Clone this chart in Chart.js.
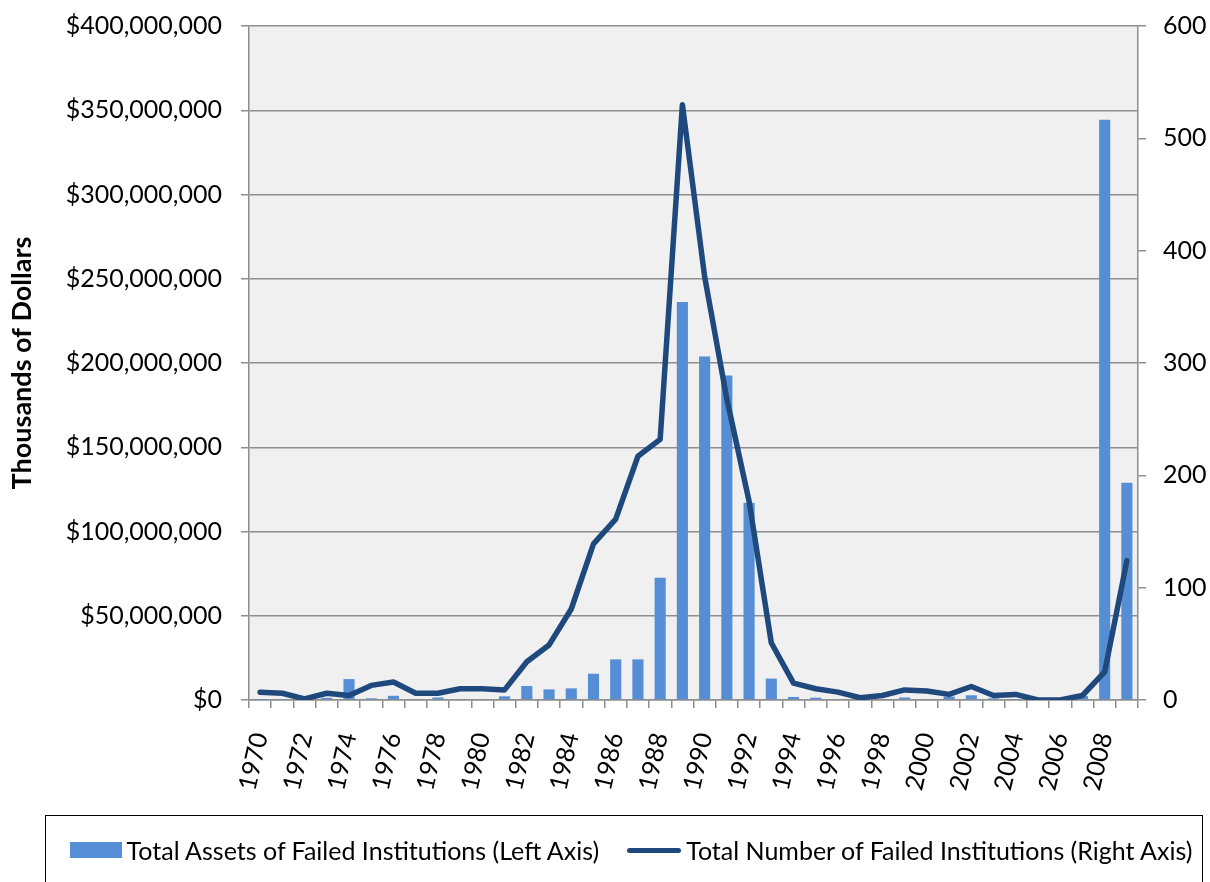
<!DOCTYPE html>
<html>
<head>
<meta charset="utf-8">
<script src="https://cdn.jsdelivr.net/npm/chart.js@4.4.1/dist/chart.umd.min.js"></script>
<style>
  html, body { margin: 0; padding: 0; background: #fff; overflow: hidden; }
  #wrap { position: relative; width: 1210px; height: 882px; overflow: hidden; }
  #chart { position: absolute; left: 0; top: -8px; }
  #legend {
    position: absolute; left: 45px; top: 815px; width: 1158px; height: 90px;
    box-sizing: border-box; border: 1px solid #000;
    display: flex; justify-content: center; align-items: flex-start;
    padding-top: 19px; padding-left: 14px;
    font-family: Lato, sans-serif; font-size: 25px; color: #000;
  }
  .item { display: flex; align-items: center; white-space: nowrap; }
  .item + .item { margin-left: 28px; }
  .swatch { margin-right: 5px; }
</style>
</head>
<body>
<div id="wrap">
  <canvas id="chart" width="1210" height="890"></canvas>
  <div id="legend"></div>
</div>
<script>
// Failed institutions per year.
const yearLabels = [
  '1970', '1971', '1972', '1973', '1974', '1975', '1976', '1977', '1978', '1979',
  '1980', '1981', '1982', '1983', '1984', '1985', '1986', '1987', '1988', '1989',
  '1990', '1991', '1992', '1993', '1994', '1995', '1996', '1997', '1998', '1999',
  '2000', '2001', '2002', '2003', '2004', '2005', '2006', '2007', '2008', '2009'
];

// thousands of dollars (left axis)
const totalAssets = [
  100000, 300000, 100000, 1300000, 12400000, 1000000, 2500000, 400000, 1500000, 300000,
  300000, 2200000, 8300000, 6300000, 6900000, 15600000, 24100000, 24100000, 72600000, 236200000,
  203900000, 192600000, 117000000, 12700000, 1800000, 1400000, 500000, 100000, 400000, 1500000,
  400000, 2000000, 2800000, 1000000, 200000, 0, 0, 2300000, 344300000, 129000000
];

// count (right axis)
const failedCount = [
  7, 6, 1, 6, 4, 13, 16, 6, 6, 10,
  10, 9, 34, 49, 81, 139, 161, 217, 232, 530,
  377, 268, 177, 51, 15, 10, 7, 2, 4, 9,
  8, 5, 12, 4, 5, 0, 0, 4, 25, 124
];

const assetsLabel = 'Total Assets of Failed Institutions (Left Axis)';
const countLabel = 'Total Number of Failed Institutions (Right Axis)';
const leftTitle = 'Thousands of Dollars';
const assetsMax = 400000000, assetsStep = 50000000;
const countMax = 600, countStep = 100;

const BAR_COLOR = '#558ed5';
const LINE_COLOR = '#1f497d';
const GRID = '#8e8e8e';
const FONT = 'Lato, sans-serif';

// grey plot background
const plotBg = {
  id: 'plotBg',
  beforeDraw(chart) {
    const { ctx, chartArea: a } = chart;
    ctx.save();
    ctx.fillStyle = '#f0f0f0';
    ctx.fillRect(a.left, a.top, a.right - a.left, a.bottom - a.top);
    ctx.restore();
  }
};

const tickFont = { family: FONT, size: 25 };

const chart = new Chart(document.getElementById('chart'), {
  data: {
    labels: yearLabels,
    datasets: [
      {
        type: 'line',
        label: countLabel,
        data: failedCount,
        yAxisID: 'yRight',
        borderColor: LINE_COLOR,
        backgroundColor: LINE_COLOR,
        borderWidth: 5.5,
        borderJoinStyle: 'round',
        borderCapStyle: 'round',
        pointRadius: 0,
        tension: 0,
        order: 0
      },
      {
        type: 'bar',
        label: assetsLabel,
        data: totalAssets,
        yAxisID: 'yLeft',
        backgroundColor: BAR_COLOR,
        barPercentage: 1,
        categoryPercentage: 0.5,
        order: 1
      }
    ]
  },
  options: {
    responsive: false,
    animation: false,
    layout: { padding: { top: 17, left: 0, right: 0, bottom: 0 } },
    plugins: { legend: { display: false }, tooltip: { enabled: false } },
    scales: {
      x: {
        type: 'category',
        offset: true,
        grid: { offset: true, drawOnChartArea: false, drawTicks: true, tickLength: 8, color: GRID, lineWidth: 1.5 },
        border: { color: GRID, width: 1.5 },
        ticks: {
          autoSkip: false,
          minRotation: 77,
          maxRotation: 77,
          padding: 22,
          color: '#000',
          font: tickFont,
          callback: (v, i) => (i % 2 === 0 ? yearLabels[i] : '')
        },
        afterFit: (s) => { s.height = 182; }
      },
      yLeft: {
        type: 'linear',
        position: 'left',
        min: 0,
        max: assetsMax,
        grid: { color: GRID, lineWidth: 1.5, tickLength: 8 },
        border: { color: GRID, width: 1.5 },
        ticks: {
          stepSize: assetsStep,
          padding: 19,
          color: '#000',
          font: tickFont,
          callback: (v) => '$' + v.toLocaleString('en-US')
        },
        title: {
          display: true,
          text: leftTitle,
          color: '#000',
          font: { family: FONT, size: 27, weight: 'bold' },
          padding: { top: 6, bottom: 0 }
        },
        afterFit: (s) => { s.width = 249; }
      },
      yRight: {
        type: 'linear',
        position: 'right',
        min: 0,
        max: countMax,
        grid: { drawOnChartArea: false, color: GRID, lineWidth: 1.5, tickLength: 8 },
        border: { color: GRID, width: 1.5 },
        ticks: { stepSize: countStep, padding: 17, color: '#000', font: tickFont },
        afterFit: (s) => { s.width = 72; }
      }
    }
  },
  plugins: [plotBg]
});

// legend: bar first, then line, like the original
function buildLegend() {
  const el = document.getElementById('legend');
  const sets = [...chart.data.datasets].sort((a, b) => b.order - a.order);
  for (const ds of sets) {
    const item = document.createElement('div');
    item.className = 'item';
    const sw = document.createElement('span');
    sw.className = 'swatch';
    if (ds.type === 'bar') {
      sw.style.cssText = `display:inline-block;width:52px;height:16px;background:${ds.backgroundColor}`;
    } else {
      sw.style.cssText = `display:inline-block;width:54px;height:5px;border-radius:3px;background:${ds.borderColor}`;
    }
    item.appendChild(sw);
    item.appendChild(document.createTextNode(ds.label));
    el.appendChild(item);
  }
}
buildLegend();
</script>
</body>
</html>
